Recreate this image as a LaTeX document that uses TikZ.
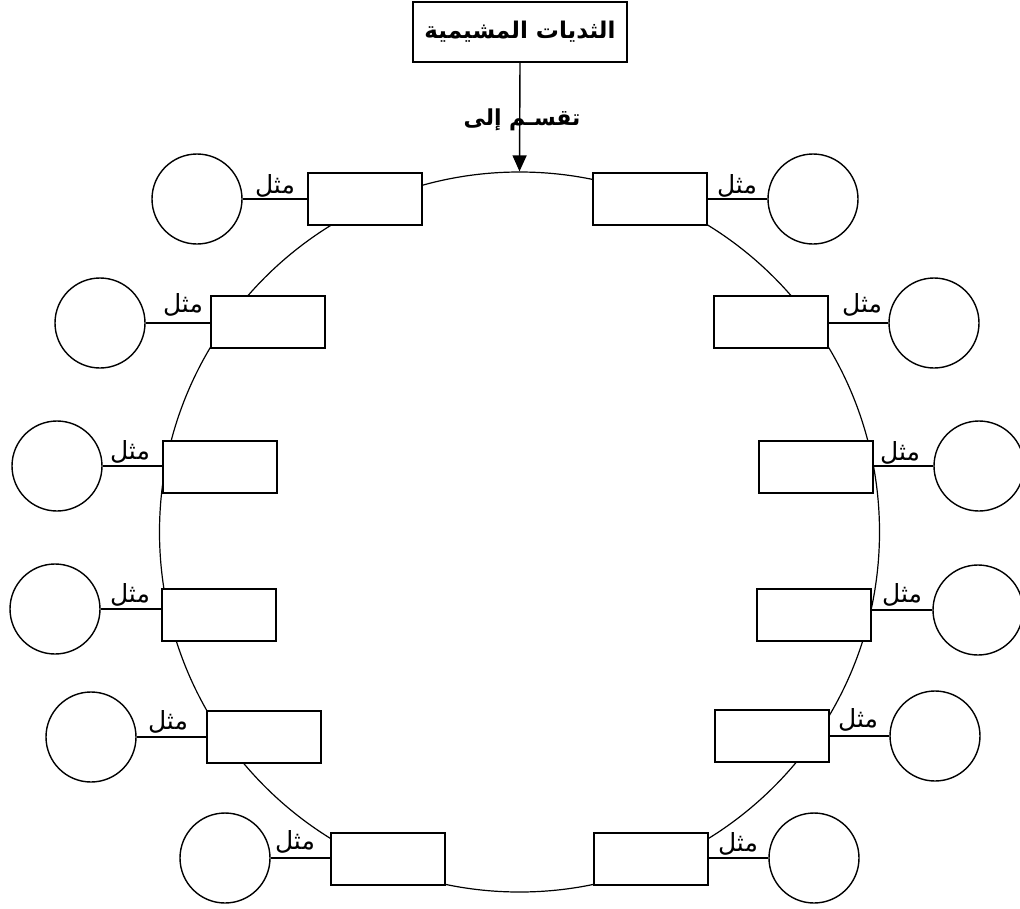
\documentclass[tikz,border=0pt]{standalone}
\usepackage{fontspec}
\usetikzlibrary{arrows.meta}
\newfontfamily\arabicfont[Script=Arabic]{DejaVu Sans}
\TeXXeTstate=1
\tikzset{
  lw/.style={line width=1.4pt},
  rbox/.style={draw, lw, fill=white, minimum width=114pt, minimum height=52pt, inner sep=0pt},
  ebox/.style={draw, lw, circle, minimum size=90pt, inner sep=0pt},
  lab/.style={font=\arabicfont\fontsize{25}{28}\selectfont, inner sep=0pt},
  conn/.style={lw},
}
\begin{document}
\begin{tikzpicture}[x=1pt,y=-1pt]
\useasboundingbox (0,0) rectangle (1020,908);
% main circle
\node[draw, line width=1.2pt, circle, minimum size=720pt, inner sep=0pt] (big) at (519.5,532) {};
% title
\node[draw, lw, fill=white, minimum width=214pt, minimum height=60pt, inner sep=0pt,
      font=\arabicfont\bfseries\fontsize{23}{26}\selectfont] (title) at (520,32) {\beginR الثديات المشيمية\endR};
\draw[lw, -{Triangle[length=16pt,width=14pt]}] (title.south) -- (big.north);
\node[font=\arabicfont\bfseries\fontsize{22}{24}\selectfont, inner sep=0pt] (divlab) at (522,120) {\beginR تقسـم إلى\endR};
% left side
\node[rbox] (rL1) at (365,199) {};
\node[ebox] (cL1) at (197,199) {};
\node[rbox] (rL2) at (268,322) {};
\node[ebox] (cL2) at (100,323) {};
\node[rbox] (rL3) at (220,467) {};
\node[ebox] (cL3) at (57,466) {};
\node[rbox] (rL4) at (219,615) {};
\node[ebox] (cL4) at (55,609) {};
\node[rbox] (rL5) at (264,737) {};
\node[ebox] (cL5) at (91,737) {};
\node[rbox] (rL6) at (388,859) {};
\node[ebox] (cL6) at (225,858) {};
% right side
\node[rbox] (rR1) at (650,199) {};
\node[ebox] (cR1) at (813,199) {};
\node[rbox] (rR2) at (771,322) {};
\node[ebox] (cR2) at (934,323) {};
\node[rbox] (rR3) at (816,467) {};
\node[ebox] (cR3) at (979,466) {};
\node[rbox] (rR4) at (814,615) {};
\node[ebox] (cR4) at (978,610) {};
\node[rbox] (rR5) at (772,736) {};
\node[ebox] (cR5) at (935,736) {};
\node[rbox] (rR6) at (651,859) {};
\node[ebox] (cR6) at (814,858) {};
% connectors
\foreach \i in {1,...,6}{
  \draw[conn] (cL\i.east) -- (cL\i.east -| rL\i.west);
  \draw[conn] (cR\i.west) -- (cR\i.west -| rR\i.east);
}
% labels
\node[lab] (mL1) at (275,186) {\beginR مثل\endR};
\node[lab] (mL2) at (183,305) {\beginR مثل\endR};
\node[lab] (mL3) at (130,452) {\beginR مثل\endR};
\node[lab] (mL4) at (130,595) {\beginR مثل\endR};
\node[lab] (mL5) at (168,722) {\beginR مثل\endR};
\node[lab] (mL6) at (295,842) {\beginR مثل\endR};
\node[lab] (mR1) at (737,186) {\beginR مثل\endR};
\node[lab] (mR2) at (862,305) {\beginR مثل\endR};
\node[lab] (mR3) at (900,453) {\beginR مثل\endR};
\node[lab] (mR4) at (902,595) {\beginR مثل\endR};
\node[lab] (mR5) at (858,720) {\beginR مثل\endR};
\node[lab] (mR6) at (738,844) {\beginR مثل\endR};
\end{tikzpicture}
\end{document}
